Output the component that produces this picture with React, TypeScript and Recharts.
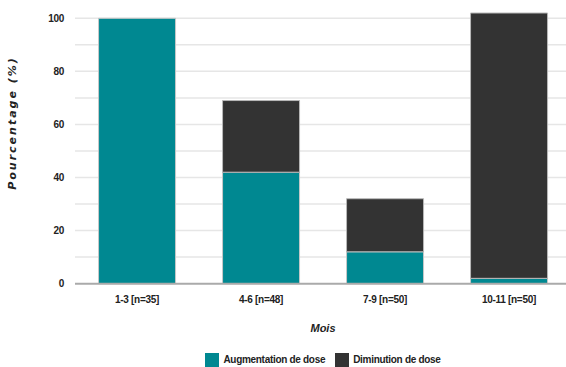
import React from 'react';
import { BarChart, Bar, XAxis, YAxis, CartesianGrid, Legend } from 'recharts';

// Période de traitement (mois) et effectif
const categories = ['1-3 [n=35]', '4-6 [n=48]', '7-9 [n=50]', '10-11 [n=50]'];
// Pourcentage de patients par type d'ajustement
const augmentation = [100, 42, 12, 2];
const diminution = [0, 27, 20, 100];
const yTicks = [0, 20, 40, 60, 80, 100];
const gridValues = [10, 20, 30, 40, 50, 60, 70, 80, 90, 100];

const data = categories.map((mois, i) => ({
  mois,
  augmentation: augmentation[i],
  diminution: diminution[i],
}));

const FONT = "'Liberation Sans Narrow', 'Arial Narrow', 'Liberation Sans', sans-serif";
const TEAL = '#008891';
const DARK = '#333333';

const YLabel = () => (
  <text
    x={0}
    y={0}
    transform="translate(16,123) rotate(-90)"
    textAnchor="middle"
    fontFamily="'DejaVu Sans', sans-serif"
    fontWeight="bold"
    fontStyle="italic"
    fontSize={11}
    letterSpacing={2}
    fill="#222"
  >
    Pourcentage (%)
  </text>
);

export default function App() {
  return (
    <div style={{ position: 'absolute', left: 0, top: 0, background: '#fff' }}>
      <BarChart
        width={571}
        height={367}
        data={data}
        margin={{ top: 13, right: 0, bottom: 0, left: 0 }}
        barCategoryGap="19%"
      >
        <CartesianGrid
          vertical={false}
          stroke="#e6e6e6"
          strokeWidth={1.5}
          horizontalValues={gridValues}
        />
        <XAxis
          dataKey="mois"
          height={68}
          tickLine={false}
          tickMargin={6}
          axisLine={{ stroke: '#aaaaaa', strokeWidth: 2 }}
          tick={{ fontFamily: FONT, fontWeight: 'bold', fontSize: 10, fill: '#222', letterSpacing: -0.3 }}
          label={{
            value: 'Mois',
            position: 'insideBottom',
            offset: 20,
            style: { fontFamily: FONT, fontWeight: 'bold', fontStyle: 'italic', fontSize: 11, fill: '#222' },
          }}
        />
        <YAxis
          width={75}
          domain={[0, 102]}
          ticks={yTicks}
          interval={0}
          axisLine={false}
          tickLine={false}
          tickMargin={5}
          tick={{ fontFamily: FONT, fontWeight: 'bold', fontSize: 10, fill: '#222', letterSpacing: -0.3 }}
          label={<YLabel />}
        />
        <Legend
          verticalAlign="bottom"
          align="center"
          iconType="square"
          iconSize={14}
          wrapperStyle={{
            left: 80,
            width: 496,
            fontFamily: FONT,
            fontWeight: 'bold',
            fontSize: 10,
            letterSpacing: '-0.3px',
            lineHeight: '15px',
            bottom: 0,
          }}
          formatter={(value) => <span style={{ color: '#222' }}>{value}</span>}
        />
        <Bar
          dataKey="augmentation"
          name="Augmentation de dose"
          stackId="a"
          fill={TEAL}
          stroke="#c8c8c8"
          strokeWidth={1}
          isAnimationActive={false}
        />
        <Bar
          dataKey="diminution"
          name="Diminution de dose"
          stackId="a"
          fill={DARK}
          stroke="#b8b8b8"
          strokeWidth={1}
          isAnimationActive={false}
        />
      </BarChart>
    </div>
  );
}
